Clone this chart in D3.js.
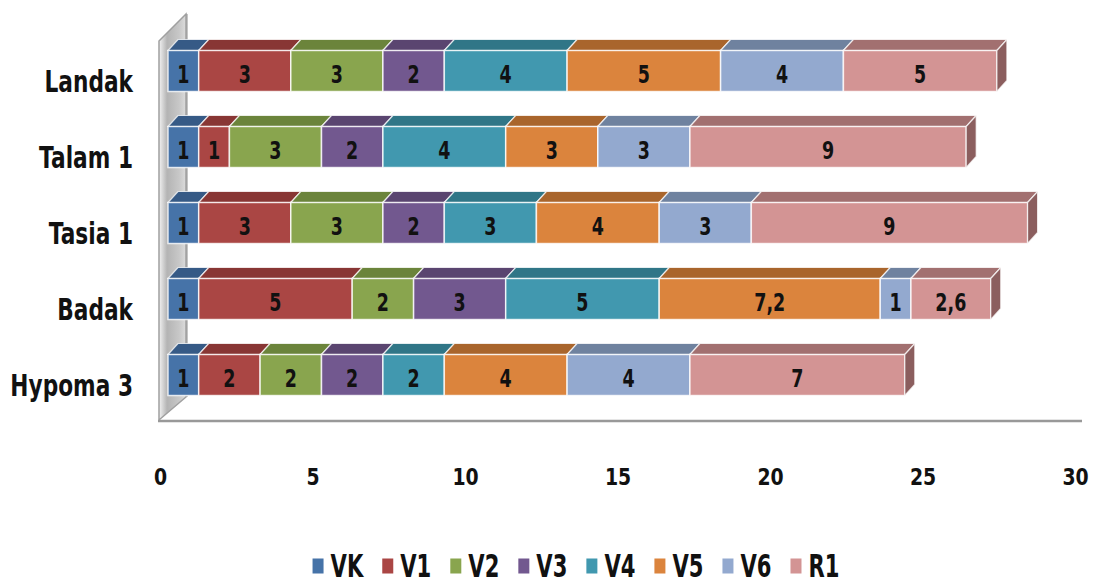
<!DOCTYPE html>
<html>
<head>
<meta charset="utf-8">
<script src="https://cdn.jsdelivr.net/npm/d3@7"></script>
<style>
  html, body { margin: 0; padding: 0; background: #fff; }
  svg { display: block; }
  .lbl { font-family: "DejaVu Sans", "Liberation Sans", sans-serif; font-weight: bold; fill: #111; }
</style>
</head>
<body>
<svg id="chart" width="1099" height="583"></svg>
<script>
// Stacked horizontal 3D bars: variety classes per clone
const categories = ["Landak", "Talam 1", "Tasia 1", "Badak", "Hypoma 3"];
const seriesNames = ["VK", "V1", "V2", "V3", "V4", "V5", "V6", "R1"];
const VK = [1, 1, 1, 1, 1];
const V1 = [3, 1, 3, 5, 2];
const V2 = [3, 3, 3, 2, 2];
const V3 = [2, 2, 2, 3, 2];
const V4 = [4, 4, 3, 5, 2];
const V5 = [5, 3, 4, 7.2, 4];
const V6 = [4, 3, 3, 1, 4];
const R1 = [5, 9, 9, 2.6, 7];
const xTicks = [0, 5, 10, 15, 20, 25, 30];

const seriesValues = [VK, V1, V2, V3, V4, V5, V6, R1];
const frontColors = ["#4673a8", "#aa4644", "#89a54e", "#72588f", "#4198af", "#db843d", "#93a9cf", "#d39494"];
const topColors   = ["#365a86", "#883634", "#6b843b", "#5a4570", "#307687", "#a9652c", "#6f829f", "#a27070"];
const sideColors  = ["#2c4a6e", "#702b2a", "#58702f", "#4a385d", "#275f6d", "#8a5223", "#5b6b84", "#8b5e5e"];

const svg = d3.select("#chart");

// Narrow, tall lettering: horizontally compressed text
function narrowText(sel, x, y, size, sx, anchor, str) {
  return sel.append("text").attr("class", "lbl")
    .attr("transform", `translate(${x},${y}) scale(${sx},1)`)
    .attr("text-anchor", anchor).attr("dominant-baseline", "central")
    .attr("font-size", size).text(str);
}
const fmt = v => String(v).replace(".", ",");

// Depth offset of the 3D extrusion
const dx = 10, dy = -11;

// Value scale for bar fronts and the floor-front scale used for tick labels
const x = d3.scaleLinear().domain([0, 30]).range([168, 1089]);
const xAxisScale = d3.scaleLinear().domain([0, 30]).range([160, 1075]);
const y = d3.scaleBand().domain(categories).range([33, 413]).paddingInner(0.46).paddingOuter(0.23);

// Back wall (left) with grey gradient
const defs = svg.append("defs");
const wallGrad = defs.append("linearGradient").attr("id", "wallGrad")
  .attr("x1", "0").attr("x2", "1").attr("y1", "0").attr("y2", "0");
wallGrad.append("stop").attr("offset", "0").attr("stop-color", "#f2f2f2");
wallGrad.append("stop").attr("offset", "0.3").attr("stop-color", "#b4b4b4");
wallGrad.append("stop").attr("offset", "0.75").attr("stop-color", "#c8c8c8");
wallGrad.append("stop").attr("offset", "1").attr("stop-color", "#dcdcdc");

const wx0 = 159, wx1 = 186, wTop = 41, wBot = 420;
svg.append("path")
  .attr("d", `M${wx0},${wTop} L${wx1},${wTop - 27} L${wx1},${wBot - 23} L${wx0},${wBot} Z`)
  .attr("fill", "url(#wallGrad)")
  .attr("stroke", "#a0a0a0").attr("stroke-width", 1.5);
svg.append("line")
  .attr("x1", wx1 + 1).attr("x2", wx1 + 1).attr("y1", wTop - 27).attr("y2", wBot - 23)
  .attr("stroke", "#8c8c8c").attr("stroke-width", 1);

// Floor front edge
svg.append("line")
  .attr("x1", wx0 - 1).attr("x2", 1082).attr("y1", wBot + 1).attr("y2", wBot + 1)
  .attr("stroke", "#999").attr("stroke-width", 2.5);

// Stacked data
const stackRows = categories.map((c, i) => {
  const row = { cat: c };
  seriesNames.forEach((s, j) => { row[s] = seriesValues[j][i]; });
  return row;
});
const stacked = d3.stack().keys(seriesNames)(stackRows);

const bars = svg.append("g");
categories.forEach((cat, ci) => {
  const g = bars.append("g");
  const y0 = y(cat), y1 = y(cat) + y.bandwidth();
  stacked.forEach((layer, si) => {
    const d = layer[ci];
    const xa = x(d[0]), xb = x(d[1]);
    // top face
    g.append("path")
      .attr("d", `M${xa},${y0} L${xa + dx},${y0 + dy} L${xb + dx},${y0 + dy} L${xb},${y0} Z`)
      .attr("fill", topColors[si])
      .attr("stroke", "rgba(255,255,255,0.75)").attr("stroke-width", 1.2);
    // front face
    g.append("rect")
      .attr("x", xa).attr("y", y0).attr("width", xb - xa).attr("height", y1 - y0)
      .attr("fill", frontColors[si])
      .attr("stroke", "rgba(255,255,255,0.8)").attr("stroke-width", 1.5);
    // end cap on the last segment
    if (si === stacked.length - 1) {
      g.append("path")
        .attr("d", `M${xb},${y0} L${xb + dx},${y0 + dy} L${xb + dx},${y1 + dy} L${xb},${y1} Z`)
        .attr("fill", sideColors[si])
        .attr("stroke", "rgba(255,255,255,0.75)").attr("stroke-width", 1.2);
    }
    // value label
    narrowText(g, (xa + xb) / 2, (y0 + y1) / 2 + 3, 25, 0.7, "middle", fmt(seriesValues[si][ci]));
  });
});

// Category labels
const catG = svg.append("g");
categories.forEach(c => {
  narrowText(catG, 133, y(c) + y.bandwidth() / 2 + 10, 31, 0.7, "end", c);
});

// Value axis tick labels
const axis = svg.append("g").attr("transform", `translate(0,${wBot})`)
  .call(d3.axisBottom(xAxisScale).tickValues(xTicks).tickSize(0).tickPadding(0));
axis.select(".domain").remove();
axis.selectAll("text").remove();
axis.selectAll(".tick").each(function (d) {
  narrowText(d3.select(this), 0, 57, 23, 0.82, "middle", String(d));
});

// Legend
const legend = svg.append("g");
const legendGap = 19, legendSx = 0.66;
let lx = 0;
seriesNames.forEach((s, i) => {
  const item = legend.append("g").attr("transform", `translate(${lx},0)`);
  item.append("rect").attr("x", 0).attr("y", -7.5).attr("width", 11).attr("height", 15)
    .attr("fill", frontColors[i]);
  const t = narrowText(item, 18, 0, 32, legendSx, "start", s);
  lx += 18 + t.node().getComputedTextLength() * legendSx + legendGap;
});
const legendW = lx - legendGap;
legend.attr("transform", `translate(${576 - legendW / 2},566)`);
</script>
</body>
</html>
